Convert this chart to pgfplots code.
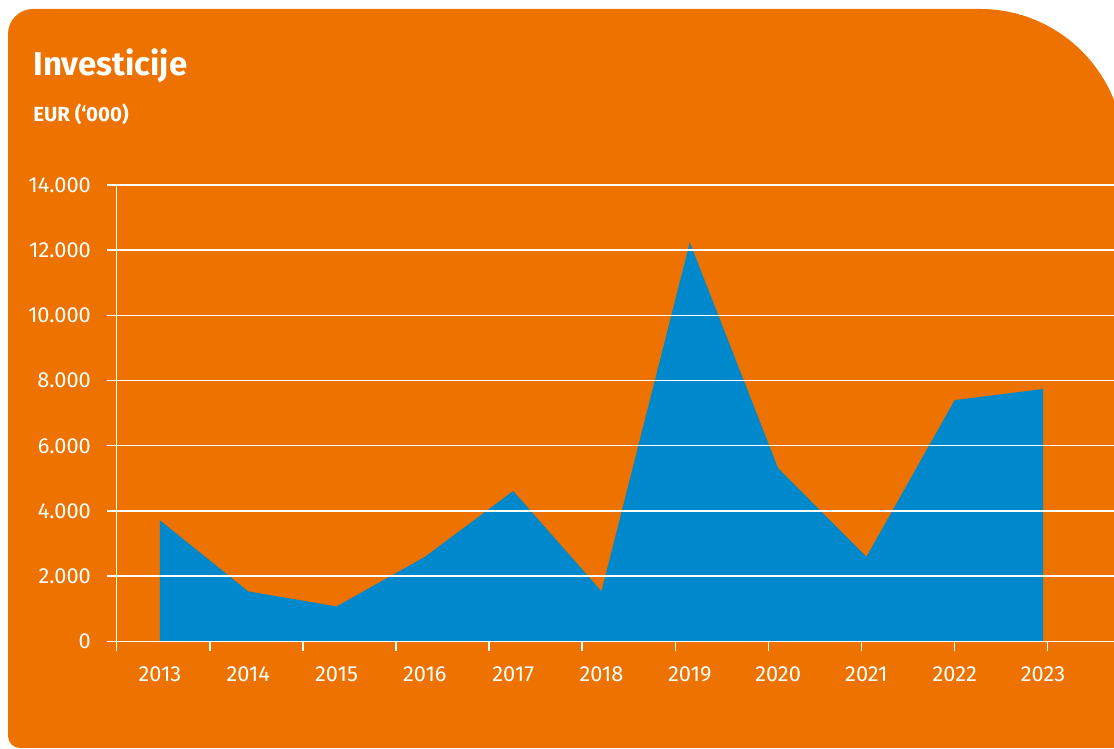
\documentclass[border=0pt]{standalone}
\usepackage{fontspec}
\setmainfont{Fira Sans}
\usepackage{pgfplots}
\pgfplotsset{compat=1.18}
\definecolor{bgorange}{RGB}{237,114,0}
\definecolor{areablue}{RGB}{0,136,204}

\begin{document}
\begin{tikzpicture}[x=0.5pt,y=0.5pt]
  \useasboundingbox (0,0) rectangle (1114,749);
  \clip (0,0) rectangle (1114,749);
  \fill[white] (0,0) rectangle (1114,749);
  % orange card, big rounded corner top right
  \fill[bgorange] (8,13) -- (8,715) arc[start angle=180,end angle=90,radius=25]
      -- (980,740) arc[start angle=90,end angle=0,radius=144]
      -- (1124,1) -- (20,1) arc[start angle=270,end angle=180,radius=12] -- cycle;
  \node[anchor=base west,inner sep=0pt,text=white,font=\fontsize{16.5}{18}\selectfont\bfseries]
      at (33,673) {Investicije};
  \node[anchor=base west,inner sep=0pt,text=white,font=\fontsize{10.2}{12}\selectfont\bfseries]
      at (33,627) {EUR (‘000)};

  \begin{axis}[
    at={(58.35pt,53.85pt)}, anchor=south west,
    scale only axis, width=498.65pt, height=228.15pt,
    xmin=-0.490, xmax=10.804, ymin=0, ymax=14000,
    axis lines*=left,
    axis line style={white, line width=0.75pt},
    every tick/.style={white, line width=0.75pt},
    tick align=outside, major tick length=5pt,
    xtick={-0.490,0.564,1.618,2.673,3.727,4.781,5.836,6.890,7.944,8.999,10.053},
    xticklabels={},
    extra x ticks={0,1,2,3,4,5,6,7,8,9,10},
    extra x tick labels={2013,2014,2015,2016,2017,2018,2019,2020,2021,2022,2023},
    extra x tick style={major tick length=0pt, xticklabel style={yshift=-9.4pt}},
    ytick={0,2000,4000,6000,8000,10000,12000,14000},
    ymajorgrids,
    grid style={white, line width=0.7pt},
    tick label style={text=white, font=\fontsize{10.9}{12}\selectfont},
    yticklabel style={xshift=-4.4pt},
    /pgf/number format/assume math mode=true,
    /pgf/number format/1000 sep={.},
    scaled y ticks=false,
    axis on top,
    clip=false,
  ]
    \addplot[fill=areablue, draw=none] coordinates {
      (0,3710) (1,1530) (2,1070) (3,2590) (4,4610) (5,1535)
      (6,12240) (7,5310) (8,2590) (9,7400) (10,7740)
    } \closedcycle;
  \end{axis}
\end{tikzpicture}
\end{document}
